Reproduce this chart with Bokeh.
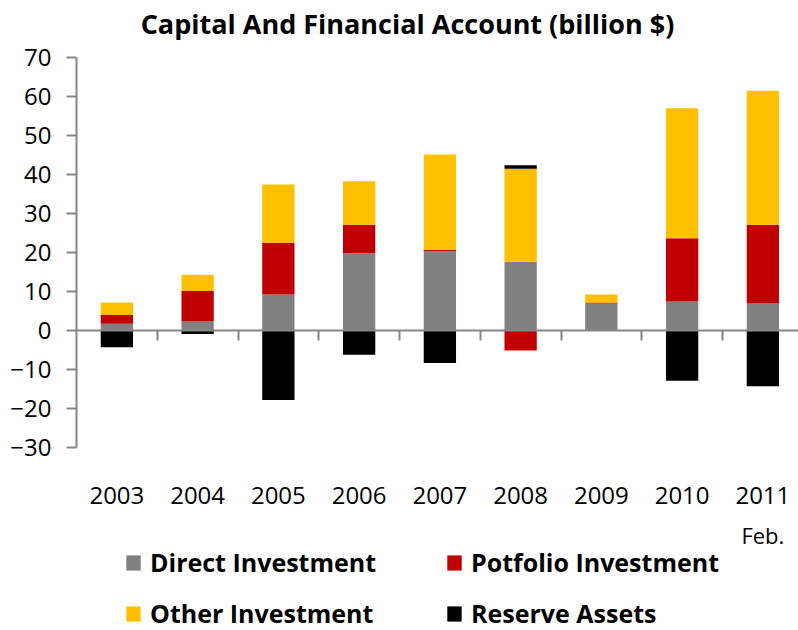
from bokeh.plotting import figure
from bokeh.models import (Range1d, FixedTicker, LinearAxis, Legend, LegendItem,
                          ColumnDataSource, Label)
from bokeh.embed import file_html
from bokeh.resources import INLINE

# ---- data (billion $) ----
years = ["2003", "2004", "2005", "2006", "2007", "2008", "2009", "2010", "2011"]
last_note = "Feb."
direct = [1.7, 2.3, 9.2, 19.8, 20.3, 17.6, 6.9, 7.4, 6.9]
portfolio = [2.3, 7.8, 13.3, 7.3, 0.4, -5.1, 0.3, 16.2, 20.2]
other = [3.2, 4.2, 14.9, 11.1, 24.4, 23.8, 2.0, 33.3, 34.3]
reserve = [-4.3, -0.9, -17.8, -6.2, -8.3, 0.9, 0.0, -12.9, -14.3]

series_names = ["Direct Investment", "Potfolio Investment", "Other Investment", "Reserve Assets"]
series_values = [direct, portfolio, other, reserve]
colors = ["#808080", "#C00000", "#FFC000", "#000000"]
y_min, y_max = -30, 70
y_ticks = list(range(y_min, y_max + 10, 10))
title_text = "Capital And Financial Account (billion $)"

FONT = "Open Sans"
GRAY = "#868686"

W, H = 798, 630
LEFT = 76
PX_PER_UNIT = 39.05 / 10.0      # vertical scale
ZERO_PX = 330                    # pixel row of value 0
CAT_PX = 80.75                   # pixel width of one category

x_end = -0.5 + (W - LEFT) / CAT_PX
y_top = ZERO_PX / PX_PER_UNIT
y_bot = -(H - ZERO_PX) / PX_PER_UNIT

p = figure(width=W, height=H,
           x_range=Range1d(-0.5, x_end), y_range=Range1d(y_bot, y_top),
           output_backend="svg", toolbar_location=None,
           x_axis_location=None,
           min_border_left=LEFT, min_border_right=0,
           min_border_top=0, min_border_bottom=0)

p.xgrid.visible = False
p.ygrid.visible = False
p.outline_line_color = None
p.background_fill_color = "white"
p.border_fill_color = "white"

# stacked bars (positives stack up, negatives stack down)
xs = list(range(len(years)))
pos_cum = [0.0] * len(years)
neg_cum = [0.0] * len(years)
renderers = {}
for name, vals, col in zip(series_names, series_values, colors):
    bottoms, tops = [], []
    for i, v in enumerate(vals):
        if v >= 0:
            bottoms.append(pos_cum[i]); tops.append(pos_cum[i] + v); pos_cum[i] += v
        else:
            bottoms.append(neg_cum[i] + v); tops.append(neg_cum[i]); neg_cum[i] += v
    src = ColumnDataSource(dict(x=xs, bottom=bottoms, top=tops))
    r = p.vbar(x="x", bottom="bottom", top="top", width=0.40, source=src,
               fill_color=col, line_color=None)
    renderers[name] = r

# y axis
ya = p.yaxis[0]
ya.bounds = (y_min, y_max)
ya.ticker = FixedTicker(ticks=y_ticks)
ya.major_label_text_font = FONT
ya.major_label_text_font_size = "24px"
ya.major_label_text_color = "black"
ya.axis_line_color = GRAY
ya.axis_line_width = 2
ya.major_tick_line_color = GRAY
ya.major_tick_line_width = 2
ya.major_tick_out = 10
ya.major_tick_in = 0
ya.minor_tick_line_color = None
ya.major_label_standoff = 15

# zero axis with tick marks between categories
zero_axis = LinearAxis(fixed_location=0,
                       ticker=FixedTicker(ticks=[i + 0.5 for i in xs[:-1]]),
                       axis_line_color=GRAY, axis_line_width=2,
                       major_tick_line_color=GRAY, major_tick_line_width=2,
                       major_tick_out=10, major_tick_in=0,
                       minor_tick_line_color=None,
                       major_label_text_color=None)
p.add_layout(zero_axis, "below")

# year labels
yr_axis = LinearAxis(fixed_location=y_min,
                     ticker=FixedTicker(ticks=xs),
                     major_label_overrides={i: years[i] for i in xs},
                     axis_line_color=None, major_tick_line_color=None,
                     minor_tick_line_color=None, major_tick_out=0, major_tick_in=0,
                     major_label_standoff=39,
                     major_label_text_font=FONT, major_label_text_font_size="24px",
                     major_label_text_color="black")
p.add_layout(yr_axis, "below")

feb_axis = LinearAxis(fixed_location=y_min,
                      ticker=FixedTicker(ticks=[xs[-1]]),
                      major_label_overrides={xs[-1]: last_note},
                      axis_line_color=None, major_tick_line_color=None,
                      minor_tick_line_color=None, major_tick_out=0, major_tick_in=0,
                      major_label_standoff=72,
                      major_label_text_font=FONT, major_label_text_font_size="22px",
                      major_label_text_color="black")
p.add_layout(feb_axis, "below")

# title
title = Label(x=331, y=H - 23, x_units="screen", y_units="screen",
              text=title_text, text_align="center", text_baseline="alphabetic",
              text_font=FONT, text_font_style="bold", text_font_size="27px",
              text_color="black")
p.add_layout(title)

legend_style = dict(orientation="vertical",
                    glyph_width=18, glyph_height=19, label_standoff=8,
                    label_text_font=FONT, label_text_font_style="bold",
                    label_text_font_size="25px", label_text_color="black",
                    spacing=17, padding=0, margin=0,
                    border_line_color=None, background_fill_alpha=0)
col1 = [series_names[0], series_names[2]]
col2 = [series_names[1], series_names[3]]
leg1 = Legend(items=[LegendItem(label=n, renderers=[renderers[n]]) for n in col1],
              location=(48, 0), **legend_style)
leg2 = Legend(items=[LegendItem(label=n, renderers=[renderers[n]]) for n in col2],
              location=(369, 0), **legend_style)
p.add_layout(leg1)
p.add_layout(leg2)

open("out.html", "w").write(file_html(p, INLINE))
